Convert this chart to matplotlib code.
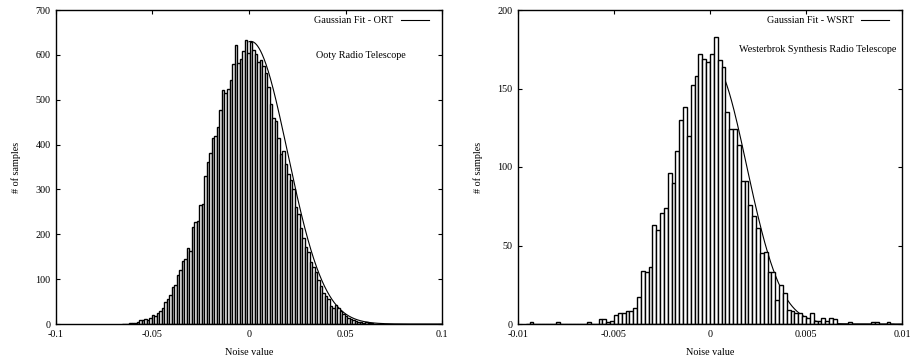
import numpy as np
import matplotlib
matplotlib.use("Agg")
import matplotlib.pyplot as plt

plt.rcParams['font.family'] = ['Liberation Serif', 'DejaVu Serif']
plt.rcParams['font.size'] = 7.3

# ORT histogram: bins of 0.0013 starting at -0.066
ort_bin_lo = -0.066
ort_bin_w = 0.0013
ort_counts = [1, 0, 1, 2, 3, 2, 4, 8, 9, 11,
              10, 14, 19, 18, 25, 30, 36, 48, 55, 64,
              82, 88, 110, 120, 140, 146, 170, 162, 216, 228,
              230, 266, 268, 330, 362, 382, 415, 418, 440, 476,
              522, 516, 525, 545, 580, 623, 582, 590, 608, 634,
              605, 628, 611, 603, 584, 588, 576, 560, 528, 490,
              460, 452, 415, 380, 385, 357, 335, 320, 300, 260,
              245, 215, 192, 172, 160, 138, 128, 117, 98, 85,
              70, 62, 55, 40, 36, 42, 36, 28, 22, 18,
              13, 11, 9, 7, 5, 4, 3, 4, 3, 2,
              1, 1, 0, 1]
# Gaussian fit parameters (amplitude, mean, sigma), drawn for x >= 0
ort_fit = (630.0, 0.001, 0.019)

# WSRT histogram: bins of 0.0002 starting at -0.0096
wsrt_bin_lo = -0.0096
wsrt_bin_w = 0.0002
wsrt_counts = [0, 1, 0, 0, 0, 0, 0, 0, 1, 0,
               0, 0, 0, 0, 0, 0, 1, 0, 0, 3,
               3, 1, 2, 6, 7, 7, 8, 8, 10, 17,
               34, 33, 36, 63, 60, 71, 74, 96, 90, 110,
               130, 138, 120, 152, 158, 172, 169, 167, 172, 183,
               168, 164, 135, 124, 124, 114, 91, 91, 76, 69,
               61, 45, 46, 33, 33, 15, 25, 20, 9, 8,
               7, 7, 5, 4, 7, 2, 2, 4, 2, 4,
               3, 0, 0, 0, 1, 0, 0, 0, 0, 0,
               1, 1, 0, 0, 1, 0]
wsrt_fit = (167.0, 0.0001, 0.0018)

panels = [
    dict(lo=ort_bin_lo, w=ort_bin_w, counts=ort_counts, fit=ort_fit,
         xlim=(-0.1, 0.1), ylim=(0, 700),
         xticks=[-0.1, -0.05, 0, 0.05, 0.1],
         xlabels=['-0.1', '-0.05', '0', '0.05', '0.1'],
         yticks=[0, 100, 200, 300, 400, 500, 600, 700],
         fit_label='Gaussian Fit - ORT', note='Ooty Radio Telescope',
         rect=[56 / 912, 38 / 362, 386 / 912, 314 / 362],
         note_xy=(0.673, 0.855)),
    dict(lo=wsrt_bin_lo, w=wsrt_bin_w, counts=wsrt_counts, fit=wsrt_fit,
         xlim=(-0.01, 0.01), ylim=(0, 200),
         xticks=[-0.01, -0.005, 0, 0.005, 0.01],
         xlabels=['-0.01', '-0.005', '0', '0.005', '0.01'],
         yticks=[0, 50, 100, 150, 200],
         fit_label='Gaussian Fit - WSRT',
         note='Westerbrok Synthesis Radio Telescope',
         rect=[518 / 912, 38 / 362, 384 / 912, 314 / 362],
         note_xy=(0.575, 0.875)),
]

fig = plt.figure(figsize=(9.12, 3.62), dpi=100)

for p in panels:
    ax = fig.add_axes(p['rect'])
    counts = np.array(p['counts'], dtype=float)
    centers = p['lo'] + p['w'] * (np.arange(len(counts)) + 0.5)

    A, mu, sig = p['fit']
    xs = np.linspace(0, p['xlim'][1], 600)
    ax.plot(xs, A * np.exp(-0.5 * ((xs - mu) / sig) ** 2), color='black',
            lw=0.8, label=p['fit_label'], zorder=2)
    ax.bar(centers, counts, width=p['w'], facecolor='white',
           edgecolor='black', linewidth=1.0, zorder=3)

    ax.set_xlim(*p['xlim'])
    ax.set_ylim(*p['ylim'])
    ax.set_xticks(p['xticks'])
    ax.set_xticklabels(p['xlabels'])
    ax.set_yticks(p['yticks'])
    ax.tick_params(direction='in', top=True, right=True, length=3,
                   width=0.8, labelsize=7.3, pad=4)
    for s in ax.spines.values():
        s.set_linewidth(1.0)
        s.set_zorder(5)
    ax.set_xlabel('Noise value', fontsize=7.3, labelpad=7)
    ax.set_ylabel('# of samples', fontsize=7.3, labelpad=10)
    ax.legend(loc='upper right', bbox_to_anchor=(0.982, 1.0),
              markerfirst=False, frameon=False,
              handlelength=2.8, handletextpad=0.7, fontsize=7.3,
              borderaxespad=0.2)
    ax.text(p['note_xy'][0], p['note_xy'][1], p['note'],
            transform=ax.transAxes, fontsize=7.3, va='center', ha='left')

fig.savefig('out.png', dpi=100)
